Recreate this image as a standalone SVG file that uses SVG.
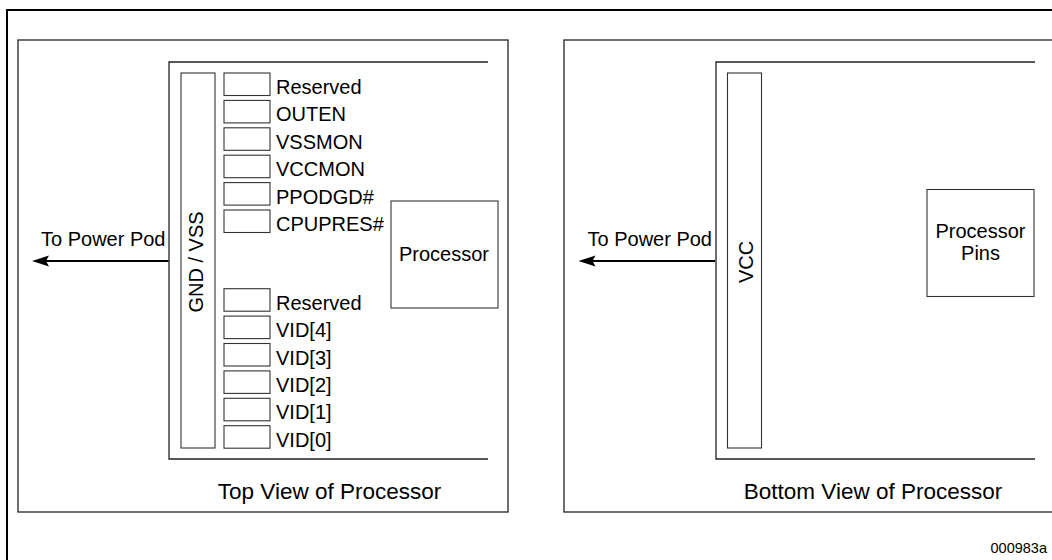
<svg xmlns="http://www.w3.org/2000/svg" width="1052" height="560" viewBox="0 0 1052 560">
  <style>
    text { font-family: "Liberation Sans", Arial, sans-serif; fill: #000; }
    .lbl { font-size: 20px; }
    .cap { font-size: 22.5px; text-anchor: middle; }
    .frame { fill: none; stroke: #000; stroke-width: 2; }
    .panel { fill: none; stroke: #222; stroke-width: 1.3; }
    .box { fill: #fff; stroke: #333; stroke-width: 1.1; }
    .conn { fill: none; stroke: #000; stroke-width: 2; }
    .mid { text-anchor: middle; }
    .end { text-anchor: end; }
  </style>
  <defs>
    <marker id="arrow" markerUnits="userSpaceOnUse" viewBox="0 -6 18 12" refX="9" refY="0" markerWidth="18" markerHeight="12" orient="auto">
      <path d="M0,-5.5 L17,0 L0,5.5 L3,0 Z" fill="#000"/>
    </marker>
  </defs>

  <rect width="1052" height="560" fill="#fff"/>

  <g id="outer-frame">
    <rect class="frame" x="7" y="10" width="1100" height="620"/>
  </g>

  <g id="top-view">
    <rect class="panel" x="18" y="40" width="490" height="472"/>
    <path class="panel" d="M488,62 H169 V459 H488"/>
    <text class="cap" x="329.5" y="499">Top View of Processor</text>
  </g>

  <g id="gnd-vss">
    <rect class="box" x="181" y="73" width="34" height="375"/>
    <text class="lbl mid" transform="translate(202.5,262) rotate(-90)">GND / VSS</text>
  </g>

  <g id="pins-top">
    <g id="pin-reserved-1"><rect class="box" x="224" y="73" width="46" height="22.5"/><text class="lbl" x="276" y="94">Reserved</text></g>
    <g id="pin-outen"><rect class="box" x="224" y="100.4" width="46" height="22.5"/><text class="lbl" x="276" y="121.4">OUTEN</text></g>
    <g id="pin-vssmon"><rect class="box" x="224" y="127.8" width="46" height="22.5"/><text class="lbl" x="276" y="148.8">VSSMON</text></g>
    <g id="pin-vccmon"><rect class="box" x="224" y="155.2" width="46" height="22.5"/><text class="lbl" x="276" y="176.2">VCCMON</text></g>
    <g id="pin-ppodgd"><rect class="box" x="224" y="182.6" width="46" height="22.5"/><text class="lbl" x="276" y="203.6">PPODGD#</text></g>
    <g id="pin-cpupres"><rect class="box" x="224" y="210" width="46" height="22.5"/><text class="lbl" x="276" y="231">CPUPRES#</text></g>
  </g>

  <g id="pins-bottom">
    <g id="pin-reserved-2"><rect class="box" x="224" y="288.7" width="46" height="22.5"/><text class="lbl" x="276" y="309.7">Reserved</text></g>
    <g id="pin-vid4"><rect class="box" x="224" y="316.1" width="46" height="22.5"/><text class="lbl" x="276" y="337.1">VID[4]</text></g>
    <g id="pin-vid3"><rect class="box" x="224" y="343.5" width="46" height="22.5"/><text class="lbl" x="276" y="364.5">VID[3]</text></g>
    <g id="pin-vid2"><rect class="box" x="224" y="370.9" width="46" height="22.5"/><text class="lbl" x="276" y="391.9">VID[2]</text></g>
    <g id="pin-vid1"><rect class="box" x="224" y="398.3" width="46" height="22.5"/><text class="lbl" x="276" y="419.3">VID[1]</text></g>
    <g id="pin-vid0"><rect class="box" x="224" y="425.7" width="46" height="22.5"/><text class="lbl" x="276" y="446.7">VID[0]</text></g>
  </g>

  <g id="processor">
    <rect class="box" x="391" y="201" width="107" height="107"/>
    <text class="lbl mid" x="444" y="261">Processor</text>
  </g>

  <g id="bottom-view">
    <rect class="panel" x="564" y="40" width="600" height="472"/>
    <path class="panel" d="M1035,62 H716 V459 H1035"/>
    <text class="cap" x="873" y="499">Bottom View of Processor</text>
  </g>

  <g id="vcc">
    <rect class="box" x="727.5" y="73" width="34" height="375"/>
    <text class="lbl mid" transform="translate(752.5,262) rotate(-90)">VCC</text>
  </g>

  <g id="processor-pins">
    <rect class="box" x="927" y="189.5" width="107" height="107"/>
    <text class="lbl mid" x="980.5" y="237.5">Processor</text>
    <text class="lbl mid" x="980.5" y="260">Pins</text>
  </g>

  <g id="connectors">
    <line class="conn" x1="168.5" y1="261" x2="40" y2="261" marker-end="url(#arrow)"/>
    <line class="conn" x1="715" y1="261" x2="586.5" y2="261" marker-end="url(#arrow)"/>
    <text class="lbl end" x="165.5" y="245.7">To Power Pod</text>
    <text class="lbl end" x="712" y="245.7">To Power Pod</text>
  </g>

  <text x="1047" y="552.7" style="font-size:14.5px; text-anchor:end">000983a</text>
</svg>
